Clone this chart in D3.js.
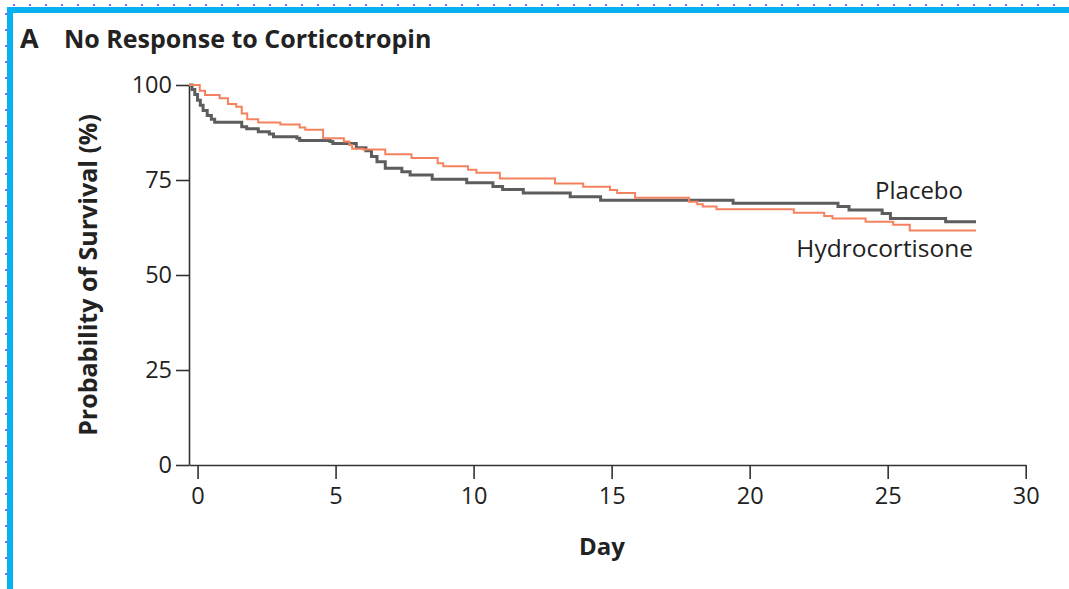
<!DOCTYPE html>
<html lang="en">
<head>
    <meta charset="UTF-8" />
    <title>No Response to Corticotropin</title>
    <script src="https://d3js.org/d3.v7.min.js"></script>
    <style>
        body { margin: 0; background: #fff; }
        text { font-family: "Open Sans", sans-serif; fill: #222; }
    </style>
</head>
<body>
    <div class="canvas"></div>

    <script>
        /* data: [day, survival %] where each step starts */
        const placebo = [
            [-0.31, 100], [-0.2, 98.8], [-0.1, 97.5], [0, 96], [0.1, 94.7], [0.2, 93.3],
            [0.35, 92], [0.5, 91], [0.62, 90.2], [1.6, 89], [1.78, 88.5], [2.2, 87.7],
            [2.6, 87.1], [2.75, 86.4], [3.6, 86], [3.7, 85.4], [4.8, 85.1], [4.9, 84.6],
            [5.75, 83.5], [6.1, 82.7], [6.3, 81.2], [6.5, 79.8], [6.8, 78.1], [7.4, 77.2],
            [7.7, 76.3], [8.5, 75.2], [9.75, 74.3], [10.7, 73.3], [11.05, 72.5], [11.8, 71.6],
            [13.5, 70.6], [14.6, 69.7], [19.4, 68.9], [23.2, 68.0], [23.6, 67.1], [24.8, 66.2],
            [25.1, 64.9], [27.1, 64.0], [28.2, 64.0]
        ];
        const hydrocortisone = [
            [-0.31, 100], [0.08, 98.5], [0.27, 97.4], [0.8, 96.5], [1.1, 95], [1.4, 94.3],
            [1.6, 92.5], [1.8, 91], [2.2, 90.1], [3.0, 89.6], [3.7, 88.8], [3.9, 88.2],
            [4.55, 86], [5.3, 85.1], [5.5, 84.2], [5.6, 83.2], [6.0, 83], [6.8, 81.8],
            [7.75, 80.8], [8.7, 79.4], [8.9, 78.6], [9.8, 77.7], [10.1, 76.9], [10.95, 75.4],
            [12.95, 74.1], [13.97, 73.2], [14.94, 72.4], [15.2, 71.6], [15.85, 70.3],
            [17.8, 69.3], [18.1, 68.6], [18.3, 68.0], [18.8, 67.3], [21.6, 66.4], [22.7, 65.5],
            [23.0, 64.9], [24.2, 64.0], [25.2, 63.2], [25.8, 61.7], [28.2, 61.7]
        ];
        const xTicks = [0, 5, 10, 15, 20, 25, 30];
        const yTicks = [0, 25, 50, 75, 100];

        const 전체넓이 = 1069, 전체높이 = 589;
        const svg = d3.select(".canvas").append("svg")
            .attr("width", 전체넓이).attr("height", 전체높이);

        /* frame: cyan bar on top and left, purple dots outside */
        svg.append("rect").attr("x", 7).attr("y", 7).attr("width", 전체넓이 - 7).attr("height", 6).attr("fill", "#08b2f0");
        svg.append("rect").attr("x", 7).attr("y", 7).attr("width", 6).attr("height", 전체높이 - 7).attr("fill", "#08b2f0");
        svg.append("g").selectAll("rect").data(d3.range(13, 전체넓이, 16)).join("rect")
            .attr("x", d => d).attr("y", 4).attr("width", 2).attr("height", 2).attr("fill", "#8c64f2");
        svg.append("g").selectAll("rect").data(d3.range(13, 전체높이, 16)).join("rect")
            .attr("x", 5).attr("y", d => d).attr("width", 2).attr("height", 2).attr("fill", "#8c64f2");

        /* scales */
        const x = d3.scaleLinear().domain([-0.31, 30]).range([189, 1025.7]);
        const y = d3.scaleLinear().domain([0, 100]).range([465, 85]);

        /* axes */
        svg.append("g").attr("transform", "translate(189,0)")
            .call(d3.axisLeft(y).tickValues(yTicks).tickSize(13).tickSizeOuter(0).tickPadding(4));
        svg.append("g").attr("transform", "translate(0,465)")
            .call(d3.axisBottom(x).tickValues(xTicks).tickSize(14).tickSizeOuter(0).tickPadding(8));
        svg.selectAll(".domain, .tick line").attr("stroke", "#333").attr("stroke-width", 1.6);
        svg.selectAll(".tick text").attr("font-family", "Open Sans").attr("font-size", 23.5).attr("fill", "#333");

        /* curves */
        const line = d3.line().x(d => x(d[0])).y(d => y(d[1])).curve(d3.curveStepAfter);
        svg.append("path").datum(placebo).attr("d", line)
            .attr("fill", "none").attr("stroke", "#5d5d5d").attr("stroke-width", 3);
        svg.append("path").datum(hydrocortisone).attr("d", line)
            .attr("fill", "none").attr("stroke", "#f5825f").attr("stroke-width", 2);

        /* labels */
        svg.append("text").attr("x", 963).attr("y", 199).attr("text-anchor", "end")
            .attr("font-size", 24).text("Placebo");
        svg.append("text").attr("x", 973).attr("y", 257).attr("text-anchor", "end")
            .attr("font-size", 24.5).text("Hydrocortisone");

        svg.append("text").attr("x", 20).attr("y", 48).attr("font-size", 27).attr("font-weight", "bold").text("A");
        svg.append("text").attr("x", 64).attr("y", 48).attr("font-size", 25).attr("font-weight", "bold")
            .text("No Response to Corticotropin");

        svg.append("text").attr("transform", "translate(97,275) rotate(-90)").attr("text-anchor", "middle")
            .attr("font-size", 25).attr("font-weight", "bold").text("Probability of Survival (%)");
        svg.append("text").attr("x", 602).attr("y", 555).attr("text-anchor", "middle")
            .attr("font-size", 24).attr("font-weight", "bold").text("Day");
    </script>
</body>
</html>
